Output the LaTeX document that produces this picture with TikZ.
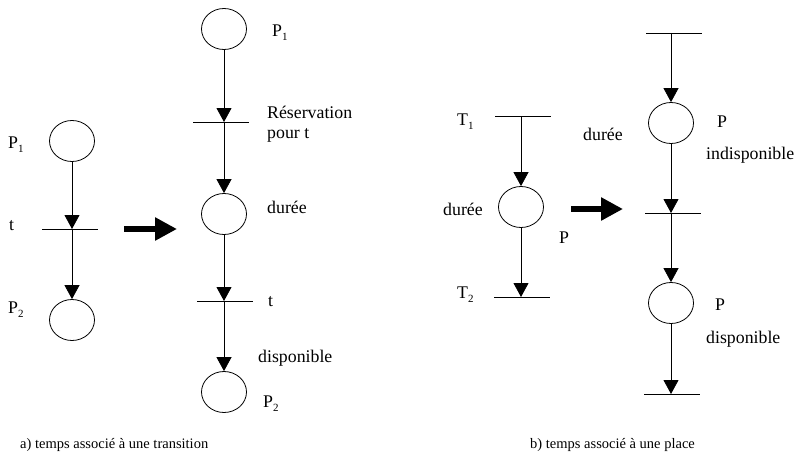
\documentclass[tikz,border=0pt]{standalone}
\usepackage{fontspec}
\setmainfont{Liberation Serif}
\usetikzlibrary{shapes.geometric,arrows.meta}
\newcommand{\sbs}[1]{\raisebox{-4pt}{\fontsize{11}{11}\selectfont #1}}
\begin{document}
\begin{tikzpicture}[x=1pt,y=-1pt,
 place/.style={draw, ellipse, minimum width=45pt, minimum height=41pt, inner sep=0pt, line width=0.8pt},
 trans/.style={minimum width=56pt, minimum height=0pt, inner sep=0pt, outer sep=0pt},
 bar/.style={line width=0.8pt},
 arc/.style={line width=0.8pt, -{Triangle[length=14pt,width=15pt]}},
 bigarrow/.style={line width=5.5pt, -{Triangle[length=22pt,width=22pt]}},
 lbl/.style={anchor=base west, inner sep=0pt, font=\fontsize{17.8}{21}\selectfont},
 captext/.style={anchor=base west, inner sep=0pt, font=\fontsize{14.5}{17}\selectfont}]
\useasboundingbox (0,0) rectangle (799,452);

% ---- a) left net
\node[place] (ap1) at (72,141) {};
\node[trans] (at) at (70,229) {};
\node[place] (ap2) at (72,320) {};
\draw[bar] (at.west) -- (at.east);
\draw[arc] (ap1) -- (ap1 |- at);
\draw[arc] (ap1 |- at) -- (ap2);
\node[lbl] (lap1) at (8,148) {P\sbs{1}};
\node[lbl] (lat) at (9,230) {t};
\node[lbl] (lap2) at (8,313) {P\sbs{2}};

\coordinate (ba1) at (124,229);
\coordinate (ba2) at (177,229);
\draw[bigarrow] (ba1) -- (ba2);

% ---- a) right net
\node[place] (bp1) at (224,29) {};
\node[trans] (bt1) at (221,122) {};
\node[place] (bd) at (224,214) {};
\node[trans] (bt2) at (225,301) {};
\node[place] (bp2) at (224,392) {};
\draw[bar] (bt1.west) -- (bt1.east);
\draw[bar] (bt2.west) -- (bt2.east);
\draw[arc] (bp1) -- (bp1 |- bt1);
\draw[arc] (bp1 |- bt1) -- (bd);
\draw[arc] (bd) -- (bd |- bt2);
\draw[arc] (bd |- bt2) -- (bp2);
\node[lbl] (lbp1) at (272,37) {P\sbs{1}};
\node[lbl] (lres) at (267,118) {Réservation};
\node[lbl] (lpour) at (267,138) {pour t};
\node[lbl] (lbd) at (267,213) {durée};
\node[lbl] (lbt) at (268,306) {t};
\node[lbl] (lbdisp) at (258,362) {disponible};
\node[lbl] (lbp2) at (263,407) {P\sbs{2}};

% ---- b) left net
\node[trans] (ct1) at (523,116) {};
\node[place] (cp) at (521,207) {};
\node[trans] (ct2) at (522,297) {};
\draw[bar] (ct1.west) -- (ct1.east);
\draw[bar] (ct2.west) -- (ct2.east);
\draw[arc] (cp |- ct1) -- (cp);
\draw[arc] (cp) -- (cp |- ct2);
\node[lbl] (lct1) at (457,125) {T\sbs{1}};
\node[lbl] (lcd) at (443,215) {durée};
\node[lbl] (lcp) at (559,243) {P};
\node[lbl] (lct2) at (457,298) {T\sbs{2}};

\coordinate (bb1) at (571,209);
\coordinate (bb2) at (623,209);
\draw[bigarrow] (bb1) -- (bb2);

% ---- b) right net
\node[trans] (dt1) at (674,33) {};
\node[place] (dp1) at (671,123) {};
\node[trans] (dt2) at (673,213) {};
\node[place] (dp2) at (671,303) {};
\node[trans] (dt3) at (672,394) {};
\draw[bar] (dt1.west) -- (dt1.east);
\draw[bar] (dt2.west) -- (dt2.east);
\draw[bar] (dt3.west) -- (dt3.east);
\draw[arc] (dp1 |- dt1) -- (dp1);
\draw[arc] (dp1) -- (dp1 |- dt2);
\draw[arc] (dp1 |- dt2) -- (dp2);
\draw[arc] (dp2) -- (dp2 |- dt3);
\node[lbl] (ldd) at (583,140) {durée};
\node[lbl] (ldp1) at (717,127) {P};
\node[lbl] (ldind) at (706,159) {indisponible};
\node[lbl] (ldp2) at (715,310) {P};
\node[lbl] (lddisp) at (706,343) {disponible};

% ---- captions
\node[captext] (capa) at (20,448) {a) temps associé à une transition};
\node[captext] (capb) at (530,448) {b) temps associé à une place};
\end{tikzpicture}
\end{document}
